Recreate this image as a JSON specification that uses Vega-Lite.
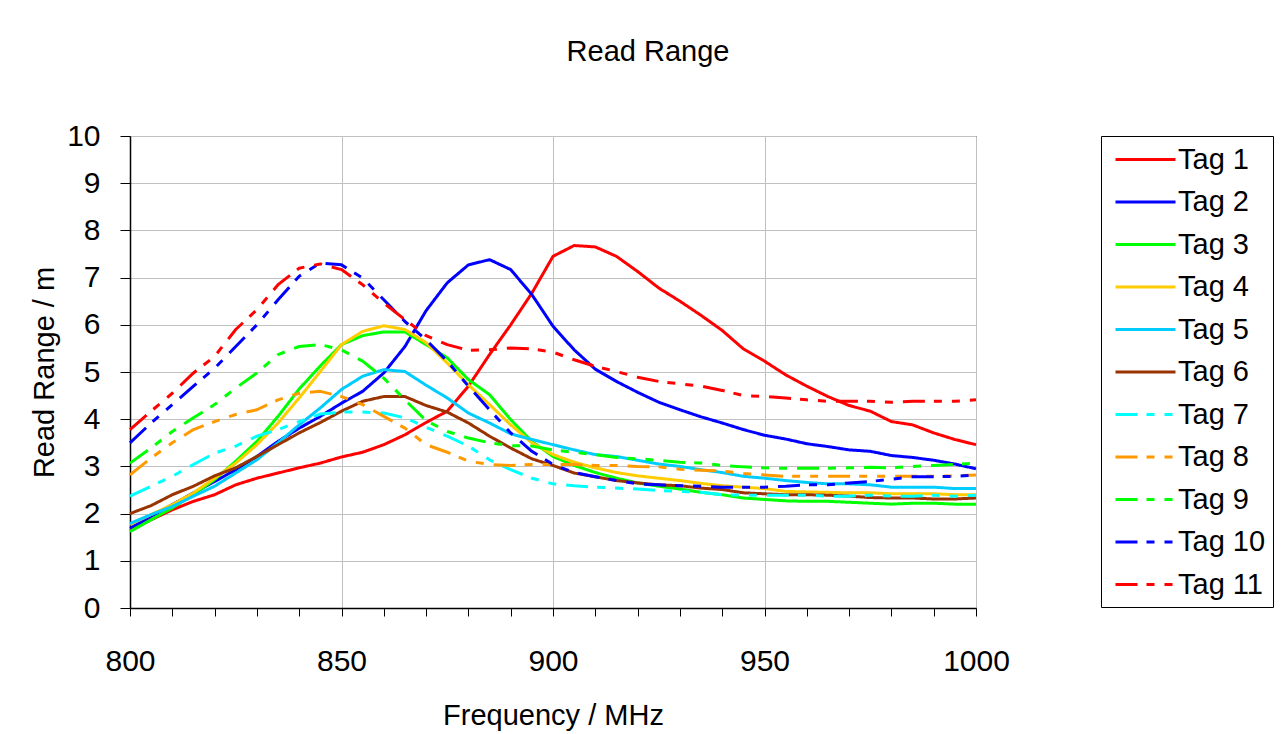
{
  "$schema": "https://vega.github.io/schema/vega-lite/v6.json",
  "width": 846,
  "height": 472,
  "autosize": {"type": "none"},
  "padding": {"left": 130, "top": 136, "right": 309, "bottom": 126},
  "background": "white",
  "config": {
    "font": "Liberation Sans",
    "view": {"stroke": "#000000", "strokeWidth": 1}
  },
  "title": {
    "text": "Read Range",
    "font": "Liberation Sans",
    "fontSize": 29,
    "fontWeight": "normal",
    "color": "#000000",
    "anchor": "middle",
    "dx": 95,
    "offset": 31,
    "baseline": "alphabetic"
  },
  "data": {
    "values": [
      {"f": 800, "Tag 1": 1.65, "Tag 2": 1.69, "Tag 3": 1.62, "Tag 4": 1.77, "Tag 5": 1.79, "Tag 6": 2.00, "Tag 7": 2.37, "Tag 8": 2.82, "Tag 9": 3.07, "Tag 10": 3.50, "Tag 11": 3.78},
      {"f": 805, "Tag 1": 1.87, "Tag 2": 1.94, "Tag 3": 1.87, "Tag 4": 1.98, "Tag 5": 1.98, "Tag 6": 2.17, "Tag 7": 2.58, "Tag 8": 3.18, "Tag 9": 3.39, "Tag 10": 3.92, "Tag 11": 4.17},
      {"f": 810, "Tag 1": 2.08, "Tag 2": 2.19, "Tag 3": 2.12, "Tag 4": 2.19, "Tag 5": 2.15, "Tag 6": 2.40, "Tag 7": 2.79, "Tag 8": 3.50, "Tag 9": 3.74, "Tag 10": 4.31, "Tag 11": 4.55},
      {"f": 815, "Tag 1": 2.26, "Tag 2": 2.44, "Tag 3": 2.40, "Tag 4": 2.44, "Tag 5": 2.37, "Tag 6": 2.58, "Tag 7": 3.04, "Tag 8": 3.78, "Tag 9": 4.03, "Tag 10": 4.70, "Tag 11": 4.98},
      {"f": 820, "Tag 1": 2.40, "Tag 2": 2.68, "Tag 3": 2.72, "Tag 4": 2.75, "Tag 5": 2.58, "Tag 6": 2.80, "Tag 7": 3.28, "Tag 8": 3.95, "Tag 9": 4.31, "Tag 10": 5.08, "Tag 11": 5.33},
      {"f": 825, "Tag 1": 2.61, "Tag 2": 2.93, "Tag 3": 3.11, "Tag 4": 3.07, "Tag 5": 2.86, "Tag 6": 2.97, "Tag 7": 3.43, "Tag 8": 4.10, "Tag 9": 4.66, "Tag 10": 5.54, "Tag 11": 5.90},
      {"f": 830, "Tag 1": 2.75, "Tag 2": 3.21, "Tag 3": 3.53, "Tag 4": 3.46, "Tag 5": 3.14, "Tag 6": 3.21, "Tag 7": 3.64, "Tag 8": 4.20, "Tag 9": 4.98, "Tag 10": 6.00, "Tag 11": 6.32},
      {"f": 835, "Tag 1": 2.86, "Tag 2": 3.53, "Tag 3": 4.06, "Tag 4": 3.92, "Tag 5": 3.50, "Tag 6": 3.46, "Tag 7": 3.78, "Tag 8": 4.41, "Tag 9": 5.37, "Tag 10": 6.53, "Tag 11": 6.85},
      {"f": 840, "Tag 1": 2.97, "Tag 2": 3.81, "Tag 3": 4.64, "Tag 4": 4.45, "Tag 5": 3.88, "Tag 6": 3.71, "Tag 7": 3.95, "Tag 8": 4.55, "Tag 9": 5.54, "Tag 10": 7.03, "Tag 11": 7.20},
      {"f": 845, "Tag 1": 3.07, "Tag 2": 4.06, "Tag 3": 5.13, "Tag 4": 5.01, "Tag 5": 4.24, "Tag 6": 3.93, "Tag 7": 4.11, "Tag 8": 4.59, "Tag 9": 5.58, "Tag 10": 7.31, "Tag 11": 7.29},
      {"f": 850, "Tag 1": 3.20, "Tag 2": 4.34, "Tag 3": 5.58, "Tag 4": 5.58, "Tag 5": 4.63, "Tag 6": 4.17, "Tag 7": 4.15, "Tag 8": 4.48, "Tag 9": 5.47, "Tag 10": 7.27, "Tag 11": 7.17},
      {"f": 855, "Tag 1": 3.30, "Tag 2": 4.59, "Tag 3": 5.77, "Tag 4": 5.86, "Tag 5": 4.91, "Tag 6": 4.38, "Tag 7": 4.15, "Tag 8": 4.31, "Tag 9": 5.23, "Tag 10": 6.99, "Tag 11": 6.85},
      {"f": 860, "Tag 1": 3.46, "Tag 2": 4.98, "Tag 3": 5.85, "Tag 4": 5.98, "Tag 5": 5.05, "Tag 6": 4.48, "Tag 7": 4.13, "Tag 8": 4.06, "Tag 9": 4.87, "Tag 10": 6.53, "Tag 11": 6.46},
      {"f": 865, "Tag 1": 3.67, "Tag 2": 5.54, "Tag 3": 5.85, "Tag 4": 5.90, "Tag 5": 5.01, "Tag 6": 4.48, "Tag 7": 4.03, "Tag 8": 3.81, "Tag 9": 4.41, "Tag 10": 6.07, "Tag 11": 6.11},
      {"f": 870, "Tag 1": 3.93, "Tag 2": 6.30, "Tag 3": 5.58, "Tag 4": 5.62, "Tag 5": 4.72, "Tag 6": 4.29, "Tag 7": 3.83, "Tag 8": 3.46, "Tag 9": 3.97, "Tag 10": 5.68, "Tag 11": 5.77},
      {"f": 875, "Tag 1": 4.17, "Tag 2": 6.89, "Tag 3": 5.30, "Tag 4": 5.19, "Tag 5": 4.45, "Tag 6": 4.15, "Tag 7": 3.64, "Tag 8": 3.30, "Tag 9": 3.74, "Tag 10": 5.23, "Tag 11": 5.58},
      {"f": 880, "Tag 1": 4.70, "Tag 2": 7.27, "Tag 3": 4.84, "Tag 4": 4.73, "Tag 5": 4.13, "Tag 6": 3.92, "Tag 7": 3.43, "Tag 8": 3.11, "Tag 9": 3.60, "Tag 10": 4.70, "Tag 11": 5.46},
      {"f": 885, "Tag 1": 5.37, "Tag 2": 7.38, "Tag 3": 4.52, "Tag 4": 4.31, "Tag 5": 3.92, "Tag 6": 3.64, "Tag 7": 3.14, "Tag 8": 3.04, "Tag 9": 3.50, "Tag 10": 4.20, "Tag 11": 5.47},
      {"f": 890, "Tag 1": 6.00, "Tag 2": 7.17, "Tag 3": 3.99, "Tag 4": 3.88, "Tag 5": 3.69, "Tag 6": 3.39, "Tag 7": 2.93, "Tag 8": 3.02, "Tag 9": 3.44, "Tag 10": 3.71, "Tag 11": 5.51},
      {"f": 895, "Tag 1": 6.67, "Tag 2": 6.64, "Tag 3": 3.53, "Tag 4": 3.50, "Tag 5": 3.57, "Tag 6": 3.16, "Tag 7": 2.75, "Tag 8": 3.04, "Tag 9": 3.43, "Tag 10": 3.32, "Tag 11": 5.49},
      {"f": 900, "Tag 1": 7.45, "Tag 2": 5.97, "Tag 3": 3.21, "Tag 4": 3.25, "Tag 5": 3.46, "Tag 6": 3.02, "Tag 7": 2.63, "Tag 8": 3.04, "Tag 9": 3.35, "Tag 10": 3.04, "Tag 11": 5.42},
      {"f": 905, "Tag 1": 7.68, "Tag 2": 5.47, "Tag 3": 3.02, "Tag 4": 3.09, "Tag 5": 3.35, "Tag 6": 2.86, "Tag 7": 2.59, "Tag 8": 3.04, "Tag 9": 3.30, "Tag 10": 2.87, "Tag 11": 5.26},
      {"f": 910, "Tag 1": 7.65, "Tag 2": 5.06, "Tag 3": 2.87, "Tag 4": 2.97, "Tag 5": 3.25, "Tag 6": 2.78, "Tag 7": 2.56, "Tag 8": 3.02, "Tag 9": 3.25, "Tag 10": 2.78, "Tag 11": 5.12},
      {"f": 915, "Tag 1": 7.45, "Tag 2": 4.80, "Tag 3": 2.75, "Tag 4": 2.87, "Tag 5": 3.21, "Tag 6": 2.70, "Tag 7": 2.54, "Tag 8": 3.02, "Tag 9": 3.19, "Tag 10": 2.70, "Tag 11": 5.01},
      {"f": 920, "Tag 1": 7.13, "Tag 2": 4.57, "Tag 3": 2.65, "Tag 4": 2.80, "Tag 5": 3.13, "Tag 6": 2.65, "Tag 7": 2.52, "Tag 8": 3.00, "Tag 9": 3.16, "Tag 10": 2.63, "Tag 11": 4.89},
      {"f": 925, "Tag 1": 6.78, "Tag 2": 4.36, "Tag 3": 2.58, "Tag 4": 2.75, "Tag 5": 3.05, "Tag 6": 2.61, "Tag 7": 2.49, "Tag 8": 2.99, "Tag 9": 3.13, "Tag 10": 2.61, "Tag 11": 4.80},
      {"f": 930, "Tag 1": 6.50, "Tag 2": 4.20, "Tag 3": 2.52, "Tag 4": 2.70, "Tag 5": 3.00, "Tag 6": 2.59, "Tag 7": 2.47, "Tag 8": 2.94, "Tag 9": 3.09, "Tag 10": 2.59, "Tag 11": 4.75},
      {"f": 935, "Tag 1": 6.20, "Tag 2": 4.05, "Tag 3": 2.45, "Tag 4": 2.64, "Tag 5": 2.93, "Tag 6": 2.54, "Tag 7": 2.45, "Tag 8": 2.92, "Tag 9": 3.07, "Tag 10": 2.58, "Tag 11": 4.70},
      {"f": 940, "Tag 1": 5.88, "Tag 2": 3.92, "Tag 3": 2.40, "Tag 4": 2.59, "Tag 5": 2.87, "Tag 6": 2.51, "Tag 7": 2.40, "Tag 8": 2.90, "Tag 9": 3.02, "Tag 10": 2.56, "Tag 11": 4.61},
      {"f": 945, "Tag 1": 5.49, "Tag 2": 3.78, "Tag 3": 2.33, "Tag 4": 2.56, "Tag 5": 2.79, "Tag 6": 2.44, "Tag 7": 2.39, "Tag 8": 2.85, "Tag 9": 2.99, "Tag 10": 2.56, "Tag 11": 4.50},
      {"f": 950, "Tag 1": 5.23, "Tag 2": 3.66, "Tag 3": 2.30, "Tag 4": 2.53, "Tag 5": 2.75, "Tag 6": 2.42, "Tag 7": 2.39, "Tag 8": 2.82, "Tag 9": 2.97, "Tag 10": 2.56, "Tag 11": 4.48},
      {"f": 955, "Tag 1": 4.94, "Tag 2": 3.58, "Tag 3": 2.27, "Tag 4": 2.47, "Tag 5": 2.70, "Tag 6": 2.40, "Tag 7": 2.39, "Tag 8": 2.79, "Tag 9": 2.96, "Tag 10": 2.58, "Tag 11": 4.45},
      {"f": 960, "Tag 1": 4.70, "Tag 2": 3.48, "Tag 3": 2.26, "Tag 4": 2.46, "Tag 5": 2.66, "Tag 6": 2.40, "Tag 7": 2.39, "Tag 8": 2.79, "Tag 9": 2.96, "Tag 10": 2.61, "Tag 11": 4.41},
      {"f": 965, "Tag 1": 4.48, "Tag 2": 3.42, "Tag 3": 2.26, "Tag 4": 2.45, "Tag 5": 2.63, "Tag 6": 2.39, "Tag 7": 2.37, "Tag 8": 2.79, "Tag 9": 2.96, "Tag 10": 2.61, "Tag 11": 4.38},
      {"f": 970, "Tag 1": 4.29, "Tag 2": 3.35, "Tag 3": 2.24, "Tag 4": 2.44, "Tag 5": 2.63, "Tag 6": 2.37, "Tag 7": 2.37, "Tag 8": 2.79, "Tag 9": 2.97, "Tag 10": 2.65, "Tag 11": 4.38},
      {"f": 975, "Tag 1": 4.17, "Tag 2": 3.32, "Tag 3": 2.22, "Tag 4": 2.44, "Tag 5": 2.61, "Tag 6": 2.34, "Tag 7": 2.39, "Tag 8": 2.79, "Tag 9": 2.98, "Tag 10": 2.68, "Tag 11": 4.38},
      {"f": 980, "Tag 1": 3.95, "Tag 2": 3.23, "Tag 3": 2.20, "Tag 4": 2.42, "Tag 5": 2.56, "Tag 6": 2.33, "Tag 7": 2.37, "Tag 8": 2.79, "Tag 9": 2.97, "Tag 10": 2.73, "Tag 11": 4.36},
      {"f": 985, "Tag 1": 3.88, "Tag 2": 3.19, "Tag 3": 2.22, "Tag 4": 2.42, "Tag 5": 2.56, "Tag 6": 2.33, "Tag 7": 2.37, "Tag 8": 2.79, "Tag 9": 3.00, "Tag 10": 2.78, "Tag 11": 4.38},
      {"f": 990, "Tag 1": 3.71, "Tag 2": 3.13, "Tag 3": 2.22, "Tag 4": 2.42, "Tag 5": 2.56, "Tag 6": 2.31, "Tag 7": 2.39, "Tag 8": 2.79, "Tag 9": 3.02, "Tag 10": 2.78, "Tag 11": 4.38},
      {"f": 995, "Tag 1": 3.57, "Tag 2": 3.05, "Tag 3": 2.20, "Tag 4": 2.40, "Tag 5": 2.53, "Tag 6": 2.31, "Tag 7": 2.37, "Tag 8": 2.80, "Tag 9": 3.04, "Tag 10": 2.79, "Tag 11": 4.38},
      {"f": 1000, "Tag 1": 3.46, "Tag 2": 2.95, "Tag 3": 2.20, "Tag 4": 2.40, "Tag 5": 2.53, "Tag 6": 2.33, "Tag 7": 2.39, "Tag 8": 2.82, "Tag 9": 3.07, "Tag 10": 2.82, "Tag 11": 4.41}
    ]
  },
  "transform": [
    {"fold": ["Tag 1", "Tag 2", "Tag 3", "Tag 4", "Tag 5", "Tag 6", "Tag 7", "Tag 8", "Tag 9", "Tag 10", "Tag 11"], "as": ["tag", "range"]}
  ],
  "mark": {"type": "line", "strokeWidth": 3, "strokeCap": "butt", "strokeJoin": "round"},
  "encoding": {
    "x": {
      "field": "f",
      "type": "quantitative",
      "scale": {"domain": [800, 1000], "nice": false, "zero": false},
      "axis": {
        "title": "Frequency / MHz",
        "format": "d",
        "values": [800, 810, 820, 830, 840, 850, 860, 870, 880, 890, 900, 910, 920, 930, 940, 950, 960, 970, 980, 990, 1000],
        "labelExpr": "datum.value % 50 === 0 ? datum.label : ''",
        "labelFont": "Liberation Sans",
        "labelFontSize": 30,
        "labelColor": "#000000",
        "labelPadding": 30,
        "labelFlush": false,
        "labelOverlap": false,
        "tickColor": "#000000",
        "tickSize": 8,
        "tickWidth": 1,
        "domainColor": "#000000",
        "domainWidth": 1.5,
        "grid": true,
        "gridColor": "#C0C0C0",
        "gridWidth": 1,
        "gridOpacity": {"condition": {"test": "datum.value % 50 === 0", "value": 1}, "value": 0},
        "titleFont": "Liberation Sans",
        "titleFontSize": 29,
        "titleFontWeight": "normal",
        "titleColor": "#000000",
        "titlePadding": 25
      }
    },
    "y": {
      "field": "range",
      "type": "quantitative",
      "scale": {"domain": [0, 10], "nice": false},
      "axis": {
        "title": "Read Range / m",
        "values": [0, 1, 2, 3, 4, 5, 6, 7, 8, 9, 10],
        "labelFont": "Liberation Sans",
        "labelFontSize": 30,
        "labelColor": "#000000",
        "labelPadding": 20,
        "labelFlush": false,
        "labelOverlap": false,
        "tickColor": "#000000",
        "tickSize": 10,
        "tickWidth": 1,
        "domainColor": "#000000",
        "domainWidth": 1.5,
        "grid": true,
        "gridColor": "#C0C0C0",
        "gridWidth": 1,
        "titleFont": "Liberation Sans",
        "titleFontSize": 29,
        "titleFontWeight": "normal",
        "titleColor": "#000000",
        "titlePadding": 7
      }
    },
    "color": {
      "field": "tag",
      "type": "nominal",
      "scale": {
        "domain": ["Tag 1", "Tag 2", "Tag 3", "Tag 4", "Tag 5", "Tag 6", "Tag 7", "Tag 8", "Tag 9", "Tag 10", "Tag 11"],
        "range": ["#FF0000", "#0000FF", "#00FF00", "#FFCC00", "#00CCFF", "#993300", "#00FFFF", "#FF9900", "#00FF00", "#0000FF", "#FF0000"]
      },
      "legend": {
        "title": null,
        "orient": "right",
        "offset": 123,
        "padding": 7,
        "strokeColor": "#000000",
        "fillColor": "#FFFFFF",
        "symbolType": "M-0.6,0H3.4",
        "symbolSize": 900,
        "symbolStrokeWidth": 3,
        "labelFont": "Liberation Sans",
        "labelFontSize": 29,
        "labelColor": "#000000",
        "labelOffset": 37,
        "rowPadding": 10.5,
        "labelLimit": 200
      }
    },
    "strokeDash": {
      "field": "tag",
      "type": "nominal",
      "scale": {
        "domain": ["Tag 1", "Tag 2", "Tag 3", "Tag 4", "Tag 5", "Tag 6", "Tag 7", "Tag 8", "Tag 9", "Tag 10", "Tag 11"],
        "range": [[1, 0], [1, 0], [1, 0], [1, 0], [1, 0], [1, 0], [22, 9, 8, 10, 8, 10], [22, 9, 8, 10, 8, 10], [22, 9, 8, 10, 8, 10], [22, 9, 8, 10, 8, 10], [22, 9, 8, 10, 8, 10]]
      },
      "legend": null
    }
  }
}
